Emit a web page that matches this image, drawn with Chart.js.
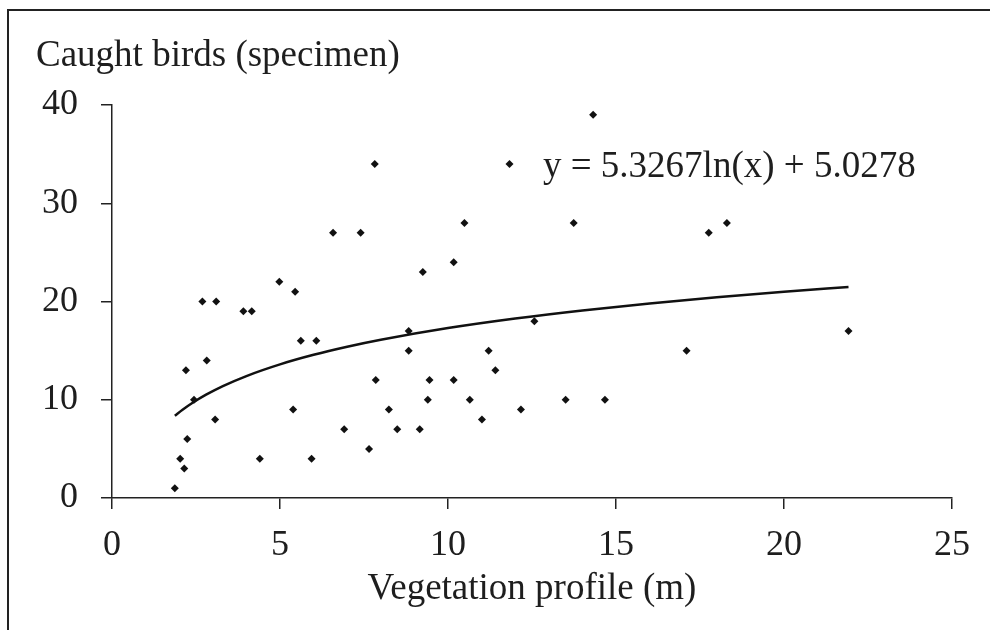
<!DOCTYPE html>
<html>
<head>
<meta charset="utf-8">
<script src="https://cdn.jsdelivr.net/npm/chart.js@4.4.1/dist/chart.umd.min.js"></script>
<style>
    html, body { margin: 0; padding: 0; background: #fff; }
    #wrap { width: 990px; height: 630px; position: relative; }
</style>
</head>
<body>
<div id="wrap"><canvas id="birdsChart" width="990" height="630"></canvas></div>
<script>
// Vegetation profile (m) vs caught birds
const vegProfile = [
    1.87, 2.03, 2.15, 2.24, 2.2, 2.44, 2.69, 2.82, 3.1, 3.07,
    3.91, 4.16, 4.4, 4.98, 5.45, 5.39, 5.62, 6.08, 5.94, 6.58,
    6.91, 7.4, 7.82, 7.65, 7.85, 8.24, 8.49, 9.16, 8.83, 8.83,
    9.25, 9.45, 9.4, 10.17, 10.17, 10.49, 10.65, 11.01, 11.21, 11.41,
    11.83, 12.17, 12.57, 13.5, 13.74, 14.32, 14.67, 17.1, 17.76, 18.3,
    21.92
];
const caughtBirds = [
    1, 4, 3, 6, 13, 10, 20, 14, 20, 8,
    19, 19, 4, 22, 21, 9, 16, 16, 4, 27,
    7, 27, 34, 5, 12, 9, 7, 7, 17, 15,
    23, 12, 10, 12, 24, 28, 10, 8, 15, 13,
    34, 9, 18, 10, 28, 39, 10, 15, 27, 28,
    17
];

// logarithmic trend line as printed on the chart
const trendA = 5.3267;
const trendB = 5.0278;
const trendLabel = 'y = 5.3267ln(x) + 5.0278';
const trendX = [1.87, 2.1, 2.4, 2.8, 3.3, 4, 5, 6, 7, 8, 10, 12, 14, 16, 18, 20, 21.92];

const xTicks = [0, 5, 10, 15, 20, 25];
const yTicks = [0, 10, 20, 30, 40];

const yTitle = 'Caught birds (specimen)';
const xTitle = 'Vegetation profile (m)';

const ink = '#1e1e1e';
const serif = "'Liberation Serif', 'Times New Roman', serif";

const scatterPoints = vegProfile.map((x, i) => ({ x: x, y: caughtBirds[i] }));
const trendPoints = trendX.map(x => ({ x: x, y: trendA * Math.log(x) + trendB }));

// frame, y title and equation drawn straight on the canvas
const extras = {
    id: 'extras',
    beforeDraw(chart) {
        const ctx = chart.ctx;
        ctx.save();
        ctx.fillStyle = '#fff';
        ctx.fillRect(0, 0, chart.width, chart.height);
        ctx.strokeStyle = '#222';
        ctx.lineWidth = 2;
        ctx.beginPath();
        ctx.moveTo(8, chart.height);
        ctx.lineTo(8, 10);
        ctx.lineTo(chart.width, 10);
        ctx.stroke();
        ctx.restore();
    },
    afterDraw(chart) {
        const ctx = chart.ctx;
        ctx.save();
        ctx.fillStyle = ink;
        ctx.font = '37px ' + serif;
        ctx.textBaseline = 'alphabetic';
        ctx.textAlign = 'left';
        ctx.fillText(yTitle, 36, 66);
        ctx.fillText(trendLabel, 543, 177);
        ctx.restore();
    }
};

const ctx = document.getElementById('birdsChart').getContext('2d');
new Chart(ctx, {
    type: 'scatter',
    data: {
        datasets: [
            {
                label: 'Birds',
                data: scatterPoints,
                pointStyle: 'rectRot',
                pointRadius: 4,
                backgroundColor: '#111',
                borderWidth: 0
            },
            {
                label: 'Trend',
                data: trendPoints,
                showLine: true,
                pointRadius: 0,
                borderColor: '#111',
                borderWidth: 2.5,
                cubicInterpolationMode: 'monotone',
                fill: false
            }
        ]
    },
    options: {
        responsive: false,
        animation: false,
        layout: {
            padding: { left: 0, top: 105, right: 38, bottom: 0 }
        },
        plugins: {
            legend: { display: false },
            tooltip: { enabled: false }
        },
        scales: {
            x: {
                type: 'linear',
                min: 0,
                max: 25,
                afterBuildTicks: scale => { scale.ticks = xTicks.map(v => ({ value: v })); },
                afterFit: scale => { scale.height = 132; },
                grid: { drawOnChartArea: false, drawTicks: true, tickLength: 11, color: '#222', lineWidth: 1.5 },
                border: { display: true, color: '#222', width: 1.5 },
                ticks: { color: ink, font: { family: serif, size: 36 }, padding: 15, maxRotation: 0 },
                title: {
                    display: true,
                    text: xTitle,
                    color: ink,
                    font: { family: serif, size: 37 },
                    padding: { top: 0, bottom: 19 }
                }
            },
            y: {
                type: 'linear',
                min: 0,
                max: 40,
                afterBuildTicks: scale => { scale.ticks = yTicks.map(v => ({ value: v })); },
                afterFit: scale => { scale.width = 112; },
                grid: { drawOnChartArea: false, drawTicks: true, tickLength: 11, color: '#222', lineWidth: 1.5 },
                border: { display: true, color: '#222', width: 1.5 },
                ticks: { color: ink, font: { family: serif, size: 36 }, padding: 23 }
            }
        }
    },
    plugins: [extras]
});
</script>
</body>
</html>
